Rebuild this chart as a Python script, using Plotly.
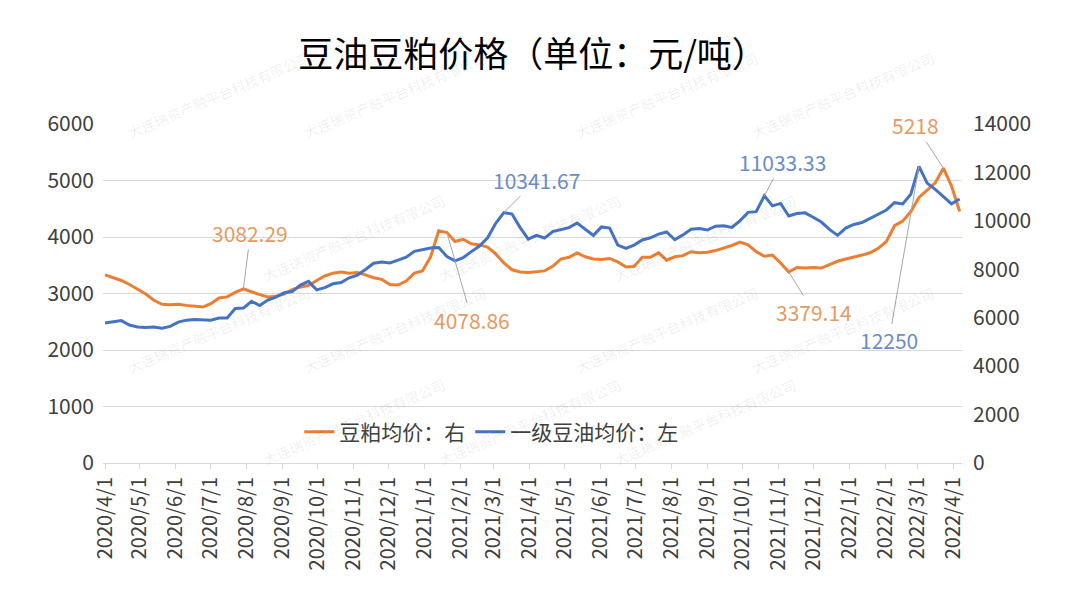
import pandas as pd
import plotly.graph_objects as go

# weekly sampling dates, 2020-04-01 .. 2022-04-06
dates = pd.date_range("2020-04-01", periods=106, freq="7D")

meal = [3330, 3280, 3230, 3160, 3080, 2990, 2880, 2810, 2800, 2810,
        2790, 2770, 2760, 2820, 2920, 2940, 3020, 3082.29, 3030, 2980,
        2940, 2950, 2990, 3070, 3115, 3140, 3230, 3310, 3360, 3380,
        3360, 3370, 3330, 3280, 3250, 3160, 3150, 3220, 3360, 3400,
        3650, 4110, 4078.86, 3920, 3960, 3880, 3860, 3820, 3700, 3540,
        3420, 3380, 3370, 3390, 3400, 3480, 3610, 3640, 3720, 3650,
        3610, 3600, 3620, 3560, 3470, 3480, 3640, 3640, 3720, 3590,
        3650, 3670, 3740, 3720, 3730, 3760, 3800, 3850, 3910, 3860,
        3740, 3660, 3680, 3540, 3379.14, 3460, 3450, 3460, 3450, 3510,
        3570, 3610, 3640, 3680, 3720, 3800, 3920, 4200, 4280, 4450,
        4700, 4830, 4960, 5218, 4900, 4450]

oil = [5780, 5830, 5880, 5700, 5620, 5600, 5620, 5570, 5640, 5820,
       5900, 5930, 5920, 5900, 5990, 5990, 6380, 6400, 6680, 6500,
       6730, 6850, 7030, 7080, 7350, 7500, 7150, 7240, 7400, 7450,
       7650, 7760, 7990, 8250, 8300, 8260, 8380, 8500, 8740, 8800,
       8880, 8900, 8530, 8350, 8480, 8730, 8960, 9300, 9900, 10341.67,
       10280, 9720, 9250, 9400, 9290, 9560, 9650, 9720, 9910, 9650,
       9400, 9750, 9700, 9000, 8860, 9000, 9210, 9300, 9450, 9540,
       9220, 9420, 9650, 9680, 9620, 9780, 9800, 9730, 10000, 10350,
       10380, 11033.33, 10620, 10720, 10200, 10300, 10330, 10150, 9950, 9650,
       9400, 9700, 9850, 9930, 10100, 10300, 10450, 10750, 10700, 11100,
       12250, 11560, 11300, 11000, 10700, 10900]

meal_name = "豆粕均价：右"
oil_name = "一级豆油均价：左"
title = "豆油豆粕价格（单位：元/吨）"
xtick_dates = pd.date_range("2020-04-01", "2022-04-01", freq="MS")
xtick_text = [f"{d.year}/{d.month}/1" for d in xtick_dates]

# labelled points: (index, ax, ay)
meal_labels = [(17, 7, -56), (42, 25, 87), (84, 25, 40), (103, -28, -43)]
oil_labels = [(49, 33, -33), (81, 18, -34), (100, -30, 174)]

ORANGE = "#ED7D31"
BLUE = "#4472C4"
FONT = "Noto Sans CJK SC, Noto Sans, sans-serif"

L, R, T, B = 103, 118, 124, 145
W, H = 1080, 608
PW, PH = W - L - R, H - T - B

fig = go.Figure()
fig.add_trace(go.Scatter(x=dates, y=meal, name=meal_name, mode="lines",
                         line=dict(color=ORANGE, width=3), yaxis="y"))
fig.add_trace(go.Scatter(x=dates, y=oil, name=oil_name, mode="lines",
                         line=dict(color=BLUE, width=3), yaxis="y2"))

annotations = []
for i, ax, ay in meal_labels:
    annotations.append(dict(x=dates[i], y=meal[i], xref="x", yref="y",
                            text=str(meal[i]), showarrow=True, arrowhead=0,
                            arrowwidth=1, arrowcolor="#A6A6A6", ax=ax, ay=ay,
                            standoff=0, font=dict(size=21, color="#E59A63", family=FONT)))
for i, ax, ay in oil_labels:
    annotations.append(dict(x=dates[i], y=oil[i], xref="x", yref="y2",
                            text=str(oil[i]), showarrow=True, arrowhead=0,
                            arrowwidth=1, arrowcolor="#A6A6A6", ax=ax, ay=ay,
                            standoff=0, font=dict(size=21, color="#6A8CC8", family=FONT)))

# watermark grid (pixel centres)
wm_text = "大连瑞资产融平台科技有限公司"
rows = [(45, [122, 395, 667, 940]), (188, [257, 530, 802]),
        (330, [122, 395, 667, 940]), (472, [257, 530, 802])]
for py, xs in rows:
    for px in xs:
        annotations.append(dict(x=(px - L) / PW, y=(H - B - py) / PH, xref="paper", yref="paper",
                                text=wm_text, showarrow=False, textangle=-23,
                                font=dict(size=14, color="rgba(0,0,0,0.08)", family=FONT)))

fig.update_layout(
    width=W, height=H,
    margin=dict(l=L, r=R, t=T, b=B),
    paper_bgcolor="white", plot_bgcolor="white",
    font=dict(family=FONT, color="#404040"),
    title=dict(text=title, x=0.5, xref="paper", xanchor="center",
               y=1 - 55 / H, yanchor="middle",
               font=dict(size=35, color="#000000", family=FONT)),
    xaxis=dict(type="date", range=["2020-03-30 06:00", "2022-04-08"],
               tickvals=xtick_dates, ticktext=xtick_text, tickangle=-90,
               showgrid=False, showline=True, linecolor="#D9D9D9", linewidth=1,
               ticks="outside", ticklen=5, tickcolor="#D9D9D9",
               tickfont=dict(size=20, color="#404040"), zeroline=False),
    yaxis=dict(range=[0, 6000], dtick=1000, showgrid=True, gridcolor="#D9D9D9",
               gridwidth=1, zeroline=False, showline=False, ticks="",
               tickformat="d",
               tickfont=dict(size=21, color="#404040"), ticklabelstandoff=8),
    yaxis2=dict(range=[0, 14000], dtick=2000, overlaying="y", side="right",
                showgrid=False, zeroline=False, showline=False, ticks="",
                tickformat="d",
                tickfont=dict(size=21, color="#404040"), ticklabelstandoff=10),
    legend=dict(orientation="h", x=0.452, xanchor="center", y=(H - B - 432) / PH,
                yanchor="middle", font=dict(size=21, color="#404040"),
                bgcolor="rgba(0,0,0,0)", itemwidth=30),
    annotations=annotations,
    showlegend=True,
)

fig.write_html("out.html")
